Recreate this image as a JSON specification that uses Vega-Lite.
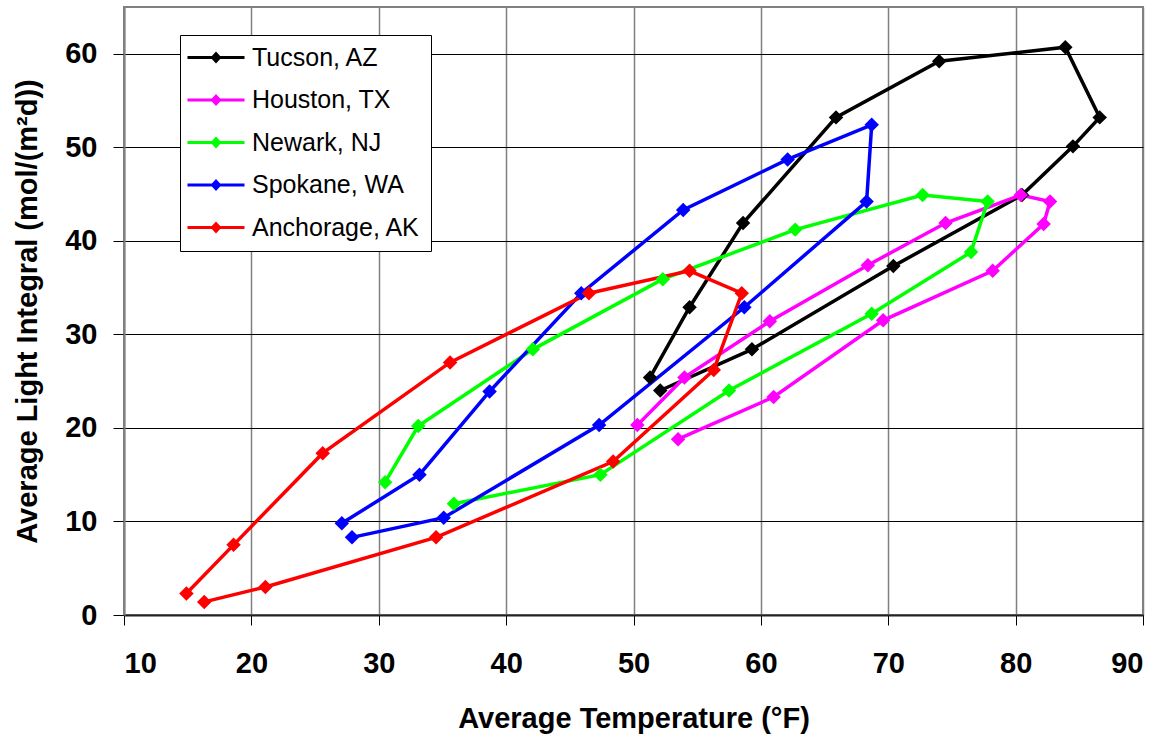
{
  "$schema": "https://vega.github.io/schema/vega-lite/v6.json",
  "width": 1019,
  "height": 608,
  "autosize": {"type": "none"},
  "padding": {"left": 124, "top": 7, "right": 24, "bottom": 125},
  "background": "white",
  "data": {
    "values": [
      {"city": "Tucson, AZ", "m": 1, "t": 51.3, "li": 25.4},
      {"city": "Tucson, AZ", "m": 2, "t": 54.4, "li": 32.9},
      {"city": "Tucson, AZ", "m": 3, "t": 58.6, "li": 41.9},
      {"city": "Tucson, AZ", "m": 4, "t": 65.9, "li": 53.2},
      {"city": "Tucson, AZ", "m": 5, "t": 74.0, "li": 59.2},
      {"city": "Tucson, AZ", "m": 6, "t": 83.9, "li": 60.7},
      {"city": "Tucson, AZ", "m": 7, "t": 86.6, "li": 53.2},
      {"city": "Tucson, AZ", "m": 8, "t": 84.5, "li": 50.1},
      {"city": "Tucson, AZ", "m": 9, "t": 80.5, "li": 44.9},
      {"city": "Tucson, AZ", "m": 10, "t": 70.4, "li": 37.3},
      {"city": "Tucson, AZ", "m": 11, "t": 59.3, "li": 28.4},
      {"city": "Tucson, AZ", "m": 12, "t": 52.1, "li": 24.0},
      {"city": "Houston, TX", "m": 1, "t": 50.3, "li": 20.3},
      {"city": "Houston, TX", "m": 2, "t": 54.0, "li": 25.4},
      {"city": "Houston, TX", "m": 3, "t": 60.7, "li": 31.4},
      {"city": "Houston, TX", "m": 4, "t": 68.4, "li": 37.4},
      {"city": "Houston, TX", "m": 5, "t": 74.5, "li": 41.9},
      {"city": "Houston, TX", "m": 6, "t": 80.4, "li": 44.9},
      {"city": "Houston, TX", "m": 7, "t": 82.7, "li": 44.2},
      {"city": "Houston, TX", "m": 8, "t": 82.2, "li": 41.8},
      {"city": "Houston, TX", "m": 9, "t": 78.2, "li": 36.8},
      {"city": "Houston, TX", "m": 10, "t": 69.6, "li": 31.5},
      {"city": "Houston, TX", "m": 11, "t": 61.0, "li": 23.3},
      {"city": "Houston, TX", "m": 12, "t": 53.5, "li": 18.8},
      {"city": "Newark, NJ", "m": 1, "t": 30.5, "li": 14.2},
      {"city": "Newark, NJ", "m": 2, "t": 33.1, "li": 20.2},
      {"city": "Newark, NJ", "m": 3, "t": 42.1, "li": 28.4},
      {"city": "Newark, NJ", "m": 4, "t": 52.3, "li": 35.9},
      {"city": "Newark, NJ", "m": 5, "t": 62.7, "li": 41.2},
      {"city": "Newark, NJ", "m": 6, "t": 72.7, "li": 44.9},
      {"city": "Newark, NJ", "m": 7, "t": 77.8, "li": 44.2},
      {"city": "Newark, NJ", "m": 8, "t": 76.5, "li": 38.8},
      {"city": "Newark, NJ", "m": 9, "t": 68.7, "li": 32.2},
      {"city": "Newark, NJ", "m": 10, "t": 57.5, "li": 24.0},
      {"city": "Newark, NJ", "m": 11, "t": 47.4, "li": 15.0},
      {"city": "Newark, NJ", "m": 12, "t": 35.9, "li": 11.9},
      {"city": "Spokane, WA", "m": 1, "t": 27.1, "li": 9.8},
      {"city": "Spokane, WA", "m": 2, "t": 33.2, "li": 15.0},
      {"city": "Spokane, WA", "m": 3, "t": 38.7, "li": 23.9},
      {"city": "Spokane, WA", "m": 4, "t": 45.9, "li": 34.4},
      {"city": "Spokane, WA", "m": 5, "t": 53.9, "li": 43.3},
      {"city": "Spokane, WA", "m": 6, "t": 62.1, "li": 48.7},
      {"city": "Spokane, WA", "m": 7, "t": 68.7, "li": 52.4},
      {"city": "Spokane, WA", "m": 8, "t": 68.3, "li": 44.2},
      {"city": "Spokane, WA", "m": 9, "t": 58.7, "li": 32.9},
      {"city": "Spokane, WA", "m": 10, "t": 47.3, "li": 20.3},
      {"city": "Spokane, WA", "m": 11, "t": 35.1, "li": 10.4},
      {"city": "Spokane, WA", "m": 12, "t": 27.9, "li": 8.3},
      {"city": "Anchorage, AK", "m": 1, "t": 14.9, "li": 2.3},
      {"city": "Anchorage, AK", "m": 2, "t": 18.6, "li": 7.5},
      {"city": "Anchorage, AK", "m": 3, "t": 25.6, "li": 17.3},
      {"city": "Anchorage, AK", "m": 4, "t": 35.6, "li": 27.0},
      {"city": "Anchorage, AK", "m": 5, "t": 46.5, "li": 34.4},
      {"city": "Anchorage, AK", "m": 6, "t": 54.4, "li": 36.8},
      {"city": "Anchorage, AK", "m": 7, "t": 58.5, "li": 34.4},
      {"city": "Anchorage, AK", "m": 8, "t": 56.3, "li": 26.2},
      {"city": "Anchorage, AK", "m": 9, "t": 48.4, "li": 16.4},
      {"city": "Anchorage, AK", "m": 10, "t": 34.5, "li": 8.3},
      {"city": "Anchorage, AK", "m": 11, "t": 21.1, "li": 3.0},
      {"city": "Anchorage, AK", "m": 12, "t": 16.3, "li": 1.4}
    ]
  },
  "encoding": {
    "x": {
      "field": "t", "type": "quantitative",
      "scale": {"domain": [10, 90], "nice": false, "zero": false},
      "axis": {
        "title": "Average Temperature (°F)",
        "values": [10, 20, 30, 40, 50, 60, 70, 80, 90],
        "gridColor": "#808080", "gridWidth": 1.5,
        "domainColor": "#222222", "domainWidth": 2,
        "tickColor": "#000000", "tickSize": 10, "tickWidth": 1,
        "labelPadding": 24, "titlePadding": 26
      }
    },
    "y": {
      "field": "li", "type": "quantitative",
      "scale": {"domain": [0, 65], "nice": false},
      "axis": {
        "title": "Average Light Integral (mol/(m²d))",
        "values": [0, 10, 20, 30, 40, 50, 60],
        "gridColor": "#000000", "gridWidth": 1,
        "domainColor": "#808080", "domainWidth": 2,
        "tickColor": "#000000", "tickSize": 11, "tickWidth": 1,
        "labelPadding": 16,
        "titleX": -82, "titleY": 304
      }
    },
    "color": {
      "field": "city", "type": "nominal",
      "scale": {
        "domain": ["Tucson, AZ", "Houston, TX", "Newark, NJ", "Spokane, WA", "Anchorage, AK"],
        "range": ["#000000", "#FF00FF", "#00FF00", "#0000FF", "#FF0000"]
      },
      "legend": {
        "title": null,
        "orient": "none",
        "legendX": 56,
        "legendY": 28,
        "direction": "vertical",
        "fillColor": "white",
        "strokeColor": "#000000",
        "padding": 10,
        "symbolType": "M-1.5,-0.15H4.2V0.15H-1.5Z M1.35,-0.6L1.9,0L1.35,0.6L0.8,0Z",
        "symbolSize": 400,
        "symbolStrokeWidth": 0,
        "symbolOpacity": 1,
        "labelFont": "Liberation Sans",
        "labelFontSize": 25,
        "labelColor": "#000000",
        "labelOffset": 37,
        "labelLimit": 300,
        "rowPadding": 16.5,
        "encode": {
          "symbols": {
            "update": {
              "fill": {"scale": "color", "field": "value"},
              "stroke": {"value": "transparent"},
              "strokeWidth": {"value": 0},
              "opacity": {"value": 1}
            }
          }
        }
      }
    }
  },
  "layer": [
    {
      "mark": {"type": "line", "strokeWidth": 3.5},
      "encoding": {
        "order": {"field": "m", "type": "quantitative"}
      }
    },
    {
      "mark": {"type": "point", "shape": "diamond", "filled": true, "size": 210, "opacity": 1}
    }
  ],
  "config": {
    "view": {"stroke": "#808080", "strokeWidth": 2},
    "axis": {
      "labelFont": "Liberation Sans", "labelFontSize": 29, "labelFontWeight": "bold", "labelColor": "#000000",
      "titleFont": "Liberation Sans", "titleFontSize": 29, "titleFontWeight": "bold", "titleColor": "#000000",
      "grid": true
    }
  }
}
